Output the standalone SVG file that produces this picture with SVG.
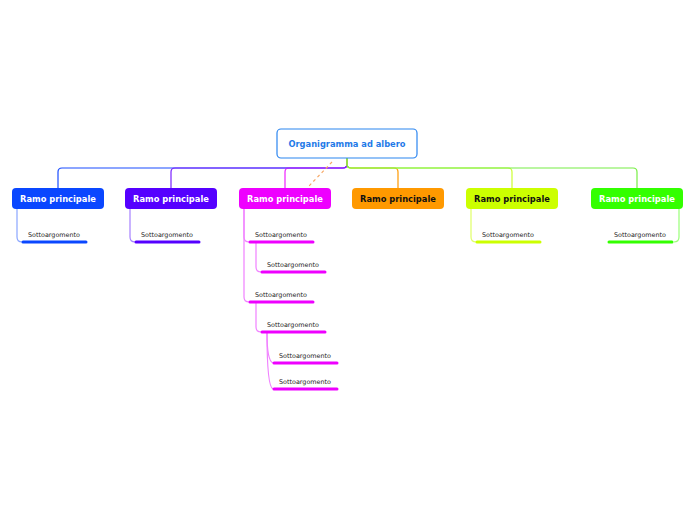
<svg xmlns="http://www.w3.org/2000/svg" width="696" height="520" viewBox="0 0 696 520">
<style>
.bt{font-family:"DejaVu Sans",sans-serif;font-weight:bold;font-size:8.3px;text-anchor:middle}
.st{font-family:"DejaVu Sans",sans-serif;font-size:6.4px;fill:#222}
.c{fill:none;stroke-width:1.2}
.u{fill:none;stroke-width:3;stroke-linecap:round}
</style>
<rect width="696" height="520" fill="#fff"/>
<g id="connectors">
<path class="c" stroke="#1a4cff" d="M347,158 V164 Q347,168 343,168 H62 Q58,168 58,172 V188"/>
<path class="c" stroke="#ee22ff" d="M347,158 V164 Q347,168 343,168 H289 Q285,168 285,172 V188"/>
<path class="c" stroke="#7a22ff" d="M347,158 V164 Q347,168 343,168 H175 Q171,168 171,172 V188"/>
<path class="c" stroke="#ff9900" d="M347,158 V164 Q347,168 351,168 H394 Q398,168 398,172 V188"/>
<path class="c" stroke="#ccff33" d="M347,158 V164 Q347,168 351,168 H508 Q512,168 512,172 V188"/>
<path class="c" stroke="#77ee44" d="M347,158 V164 Q347,168 351,168 H633 Q637,168 637,172 V188"/>
<path fill="none" stroke="#f7a866" stroke-width="1.2" stroke-dasharray="3,3" d="M332,162 L309,186"/>
<path class="c" stroke="#8aa6ff" d="M17,209 V237 Q17,242 22,242"/>
<path class="c" stroke="#a680ff" d="M130,209 V237 Q130,242 135,242"/>
<path class="c" stroke="#f080ff" d="M244,209 V237 Q244,242 249,242"/>
<path class="c" stroke="#f080ff" d="M244,209 V297 Q244,302 249,302"/>
<path class="c" stroke="#f080ff" d="M256,243 V267 Q256,272 261,272"/>
<path class="c" stroke="#f080ff" d="M256,303 V327 Q256,332 261,332"/>
<path class="c" stroke="#f080ff" d="M267,333 Q267,361 273,363"/>
<path class="c" stroke="#f080ff" d="M267,333 Q267,387 273,389"/>
<path class="c" stroke="#e0ff66" d="M471,209 V237 Q471,242 476,242"/>
<path class="c" stroke="#99ff77" d="M679,209 V237 Q679,242 674,242"/>
<path class="u" stroke="#0a47ff" d="M23,242 H86"/>
<path class="u" stroke="#5500ff" d="M136,242 H199"/>
<path class="u" stroke="#ee00ff" d="M250,242 H313"/>
<path class="u" stroke="#ee00ff" d="M262,272 H325"/>
<path class="u" stroke="#ee00ff" d="M250,302 H313"/>
<path class="u" stroke="#ee00ff" d="M262,332 H325"/>
<path class="u" stroke="#ee00ff" d="M274,363 H337"/>
<path class="u" stroke="#ee00ff" d="M274,389 H337"/>
<path class="u" stroke="#ccff00" d="M477,242 H540"/>
<path class="u" stroke="#33ff00" d="M609,242 H672"/>
</g>
<g id="root">
<rect x="277" y="129" width="140" height="29" rx="4" fill="#fff" stroke="#2b85f0" stroke-width="1.2"/>
<text class="bt" x="347" y="147" fill="#1f7ae8">Organigramma ad albero</text>
</g>
<g id="b1"><rect x="12" y="188" width="92" height="21" rx="4" fill="#0a47ff"/><text class="bt" x="58" y="202" fill="#fff">Ramo principale</text></g>
<g id="b2"><rect x="125" y="188" width="92" height="21" rx="4" fill="#5500ff"/><text class="bt" x="171" y="202" fill="#fff">Ramo principale</text></g>
<g id="b3"><rect x="239" y="188" width="92" height="21" rx="4" fill="#ee00ff"/><text class="bt" x="285" y="202" fill="#fff">Ramo principale</text></g>
<g id="b4"><rect x="352" y="188" width="92" height="21" rx="4" fill="#ff9900"/><text class="bt" x="398" y="202" fill="#111">Ramo principale</text></g>
<g id="b5"><rect x="466" y="188" width="92" height="21" rx="4" fill="#ccff00"/><text class="bt" x="512" y="202" fill="#111">Ramo principale</text></g>
<g id="b6"><rect x="591" y="188" width="92" height="21" rx="4" fill="#33ff00"/><text class="bt" x="637" y="202" fill="#fff">Ramo principale</text></g>
<g id="s1"><text class="st" x="28" y="237">Sottoargomento</text></g>
<g id="s2"><text class="st" x="141" y="237">Sottoargomento</text></g>
<g id="s3"><text class="st" x="255" y="237">Sottoargomento</text></g>
<g id="s3a"><text class="st" x="267" y="267">Sottoargomento</text></g>
<g id="s4"><text class="st" x="255" y="297">Sottoargomento</text></g>
<g id="s4a"><text class="st" x="267" y="327">Sottoargomento</text></g>
<g id="s4a1"><text class="st" x="279" y="358">Sottoargomento</text></g>
<g id="s4a2"><text class="st" x="279" y="384">Sottoargomento</text></g>
<g id="s5"><text class="st" x="482" y="237">Sottoargomento</text></g>
<g id="s6"><text class="st" x="614" y="237">Sottoargomento</text></g>
</svg>
